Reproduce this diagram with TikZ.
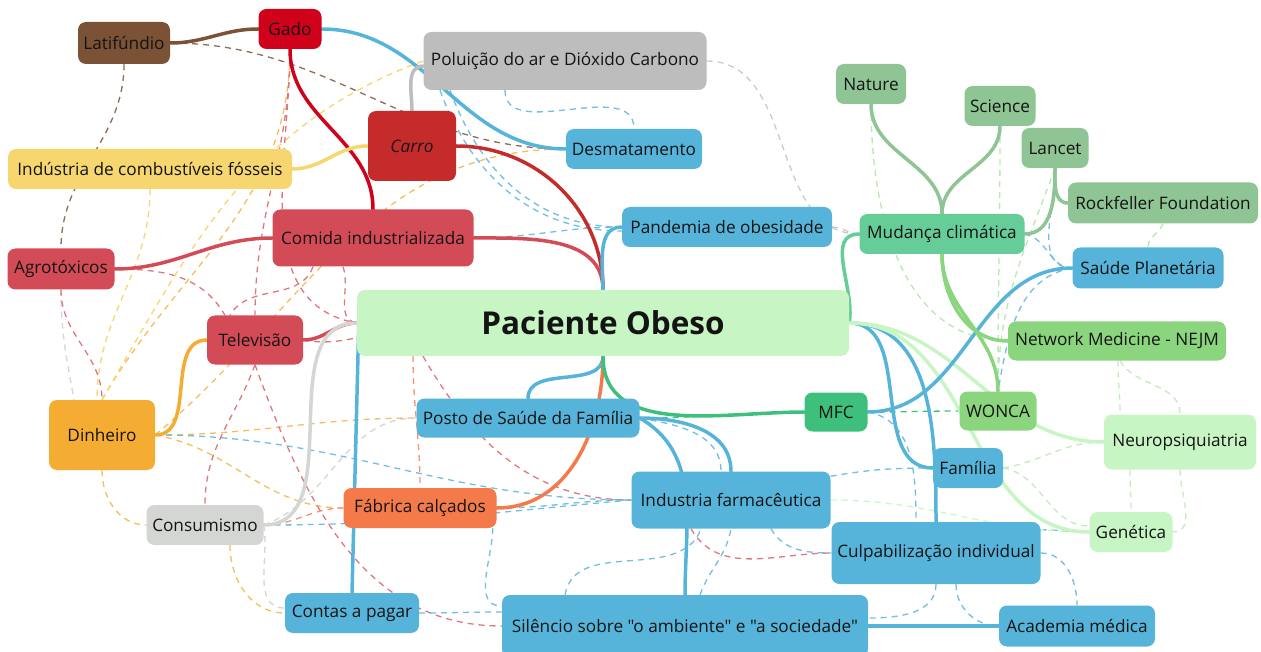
\documentclass[tikz,border=0pt]{standalone}
\usepackage{fontspec}
\setmainfont{Open Sans}[Ligatures=TeXOff]
\usepackage{xcolor}
\usepackage{tikz}
\usetikzlibrary{backgrounds}
\usetikzlibrary{positioning}

\definecolor{cbrown}{HTML}{7B5236}
\definecolor{cgado}{HTML}{D0021B}
\definecolor{cgray}{HTML}{BDBDBD}
\definecolor{ccarro}{HTML}{C62B2B}
\definecolor{cblue}{HTML}{56B4DA}
\definecolor{cyellow}{HTML}{F5D66F}
\definecolor{cred}{HTML}{D34B56}
\definecolor{cpale}{HTML}{C8F5C4}
\definecolor{corange}{HTML}{F5AC33}
\definecolor{cmfc}{HTML}{3EC07C}
\definecolor{cwonca}{HTML}{8AD57D}
\definecolor{cmuted}{HTML}{8FC594}
\definecolor{cmud}{HTML}{66CD98}
\definecolor{clgray}{HTML}{D4D6D3}
\definecolor{cfab}{HTML}{F47A4A}

\begin{document}
\begin{tikzpicture}[x=1pt,y=1pt]
  \tikzstyle{box}=[rounded corners=8pt, inner sep=0pt, text=black!92, font=\fontsize{17.2}{20}\selectfont]
  \tikzstyle{tie}=[line width=3.5pt, line cap=round]
  \tikzstyle{link}=[line width=1.3pt, dash pattern=on 6pt off 5pt]
  \useasboundingbox (0,0) rectangle (1261,-652);

  % left side
  \node[box, fill=cbrown, minimum width=92pt, minimum height=42pt] (lati) at (124,-43) {Latifúndio};
  \node[box, fill=cgado, minimum width=63pt, minimum height=40pt] (gado) at (290,-29) {Gado};
  \node[box, fill=cgray, minimum width=283pt, minimum height=58pt] (polu) at (565,-61) {Poluição do ar e Dióxido Carbono};
  \node[box, fill=ccarro, minimum width=88pt, minimum height=70pt] (carro) at (412,-146) {\itshape Carro};
  \node[box, fill=cblue, minimum width=136pt, minimum height=40pt] (desm) at (634,-149) {Desmatamento};
  \node[box, fill=cyellow, minimum width=284pt, minimum height=40pt] (comb) at (150,-169) {Indústria de combustíveis fósseis};
  \node[box, fill=cred, minimum width=201pt, minimum height=57pt] (comi) at (373,-238) {Comida industrializada};
  \node[box, fill=cblue, minimum width=210pt, minimum height=40pt] (pand) at (727,-227) {Pandemia de obesidade};
  \node[box, fill=cred, minimum width=107pt, minimum height=41pt] (agro) at (61,-269) {Agrotóxicos};
  \node[box, fill=cpale, minimum width=492pt, minimum height=66pt, font=\bfseries\fontsize{31.5}{36}\selectfont] (paci) at (603,-323) {Paciente Obeso};
  \node[box, fill=cred, minimum width=96pt, minimum height=49pt] (tele) at (255,-340) {Televisão};
  \node[box, fill=corange, minimum width=106pt, minimum height=70pt] (dinh) at (102,-435) {Dinheiro};
  \node[box, fill=cblue, minimum width=223pt, minimum height=39pt] (post) at (528,-418) {Posto de Saúde da Família};
  \node[box, fill=clgray, minimum width=117pt, minimum height=40pt] (cons) at (205,-525) {Consumismo};
  \node[box, fill=cfab, minimum width=153pt, minimum height=40pt] (fabr) at (420,-508) {Fábrica calçados};
  \node[box, fill=cblue, minimum width=134pt, minimum height=40pt] (cont) at (352,-613) {Contas a pagar};
  \node[box, fill=cblue, minimum width=199pt, minimum height=57pt] (indu) at (731,-500) {Industria farmacêutica};
  \node[box, fill=cblue, minimum width=366pt, minimum height=62pt] (sile) at (685,-626) {Silêncio sobre "o ambiente" e "a sociedade"};

  % right side
  \node[box, fill=cmuted, minimum width=70pt, minimum height=40pt] (natu) at (871,-84) {Nature};
  \node[box, fill=cmuted, minimum width=71pt, minimum height=40pt] (scie) at (1000,-106) {Science};
  \node[box, fill=cmuted, minimum width=67pt, minimum height=40pt] (lanc) at (1055,-148) {Lancet};
  \node[box, fill=cmuted, minimum width=190pt, minimum height=41pt] (rock) at (1163,-203) {Rockfeller Foundation};
  \node[box, fill=cmud, minimum width=165pt, minimum height=40pt] (mudc) at (942,-234) {Mudança climática};
  \node[box, fill=cblue, minimum width=151pt, minimum height=41pt] (plan) at (1148,-268) {Saúde Planetária};
  \node[box, fill=cwonca, minimum width=218pt, minimum height=39pt] (netw) at (1117,-341) {Network Medicine - NEJM};
  \node[box, fill=cmfc, minimum width=63pt, minimum height=39pt] (mfc) at (836,-412) {MFC};
  \node[box, fill=cwonca, minimum width=77pt, minimum height=39pt] (wonc) at (998,-411) {WONCA};
  \node[box, fill=cpale, minimum width=152pt, minimum height=55pt] (neur) at (1180,-442) {Neuropsiquiatria};
  \node[box, fill=cblue, minimum width=70pt, minimum height=40pt] (fami) at (968,-468) {Família};
  \node[box, fill=cpale, minimum width=83pt, minimum height=40pt] (gene) at (1131,-532) {Genética};
  \node[box, fill=cblue, minimum width=209pt, minimum height=62pt] (culp) at (936,-553) {Culpabilização individual};
  \node[box, fill=cblue, minimum width=156pt, minimum height=41pt] (acad) at (1077,-626) {Academia médica};

  \begin{pgfonlayer}{background}
  % cross links
  \path[link]
    (lati.east) edge[cbrown!85, out=0, in=180] (desm.west)
    (lati.south) edge[cbrown!85, out=270, in=90] (agro.north)
    (agro.south) edge[clgray, out=270, in=100] ([xshift=-28pt]dinh.north)
    (agro.south) edge[cred!75, out=270, in=90] (dinh.north)
    (comb.south) edge[cyellow, out=270, in=90] ([xshift=-5pt]dinh.north)
    (agro.east) edge[cred!75, out=0, in=120] ([xshift=-30pt]tele.north)
    (dinh.north) edge[corange!80, out=60, in=270] (gado.south)
    (dinh.north) edge[cyellow, out=60, in=200] (polu.west)
    (dinh.east) edge[corange!80, out=40, in=180] (desm.west)
    (dinh.east) edge[corange!80, out=0, in=180] (post.west)
    (dinh.east) edge[corange!80, out=-10, in=180] (fabr.west)
    (dinh.east) edge[cblue!85, out=0, in=180] (indu.west)
    (dinh.south) edge[corange!80, out=270, in=180] (cons.west)
    ([xshift=25pt]cons.south) edge[corange!80, out=270, in=180] (cont.west)
    (cons.east) edge[clgray, out=280, in=180] ([yshift=5pt]cont.west)
    (cons.east) edge[cfab!80, out=0, in=180] (fabr.west)
    (cons.east) edge[cblue!85, out=0, in=185] (indu.west)
    (cons.east) edge[clgray, out=20, in=180] (post.west)
    (tele.south) edge[cred!75, out=250, in=90] (cons.north)
    (tele.south) edge[cred!75, out=290, in=180] (sile.west)
    (tele.east) edge[cred!75, out=-10, in=190] ([yshift=-15pt]paci.west)
    (gado.south) edge[cred!75, out=270, in=170] (paci.west)
    (gado.south) edge[cred!75, out=270, in=90] (tele.north)
    ([xshift=-60pt]comi.south) edge[cred!75, out=250, in=60] ([xshift=-25pt]tele.north)
    ([xshift=-30pt]comi.south) edge[cred!75, out=290, in=170] (paci.west)
    ([xshift=-180pt]paci.south) edge[cred!75, out=300, in=180] (indu.west)
    ([xshift=-190pt]paci.south) edge[cfab!80, out=270, in=90] (fabr.north)
    (fabr.east) edge[cblue!85, out=0, in=180] (indu.west)
    ([xshift=-4pt]fabr.south east) edge[cblue!85, out=270, in=180] ([yshift=20pt]sile.west)
    (cont.east) edge[cblue!85, out=0, in=180] ([yshift=14pt]sile.west)
    ([xshift=-120pt]sile.north) edge[cblue!85, out=80, in=250] ([xshift=-30pt]indu.south)
    ([xshift=15pt]sile.north) edge[cblue!85, out=70, in=260] (indu.south)
    ([xshift=-40pt]indu.south) edge[cred!75, out=300, in=180] (culp.west)
    ([xshift=40pt]indu.south) edge[cblue!85, out=300, in=180] (culp.west)
    (culp.south) edge[cblue!85, out=270, in=0] ([yshift=8pt]sile.east)
    ([xshift=20pt]culp.south) edge[cblue!85, out=270, in=180] (acad.west)
    (culp.east) edge[cblue!85, out=0, in=90] (acad.north)
    ([yshift=-8pt]culp.north east) edge[cblue!85, out=0, in=180] (gene.west)
    ([yshift=-5pt]indu.north east) edge[cblue!85, out=10, in=180] (fami.west)
    (indu.east) edge[cpale!80!green!60!white, out=0, in=180] (gene.west)
    (mfc.east) edge[cblue!85, out=-10, in=90] ([xshift=-20pt]culp.north)
    (post.east) edge[cmfc, out=0, in=180] (mfc.west)
    (post.east) edge[cblue!85, out=-10, in=90] ([xshift=-10pt]indu.north)
    (mfc.east) edge[cmfc, out=0, in=180] (wonc.west)
    (fami.east) edge[cwonca!50, out=10, in=180] (neur.west)
    (fami.east) edge[cwonca!50, out=-10, in=180] ([yshift=6pt]gene.west)
    ([xshift=1pt]netw.south) edge[cwonca!50, out=270, in=90] ([xshift=-60pt]neur.north)
    ([xshift=3pt]netw.south) edge[cwonca!50, out=300, in=90] (neur.north)
    ([xshift=-50pt]neur.south) edge[cwonca!50, out=270, in=90] (gene.north)
    (neur.south) edge[cwonca!50, out=270, in=0] (gene.east)
    (rock.south) edge[cwonca!60, out=250, in=90] (plan.north)
    (natu.south) edge[cwonca!60, out=270, in=180] (netw.west)
    (scie.south) edge[cwonca!60, out=270, in=90] (wonc.north)
    (lanc.south) edge[cwonca!60, out=250, in=90] (wonc.north)
    (lanc.south) edge[cblue!85, out=270, in=180] (plan.west)
    (mudc.east) edge[cblue!85, out=-10, in=180] (plan.west)
    (plan.west) edge[cblue!85, out=190, in=80] (wonc.north)
    (polu.east) edge[cgray!80, out=0, in=180] (mudc.west)
    (pand.east) edge[cgray!80, out=0, in=180] (mudc.west)
    ([xshift=-60pt]polu.south) edge[cblue!85, out=270, in=90] (desm.north)
    ([xshift=-115pt]polu.south) edge[cblue!85, out=290, in=180] (pand.west)
    ([xshift=-125pt]polu.south) edge[cblue!85, out=290, in=180] ([yshift=-4pt]pand.west)
    (comi.east) edge[cblue!85, out=0, in=180] (pand.west);

  % tree branches
  \path[tie]
    (lati.east) edge[cbrown, out=0, in=180] (gado.west)
    (gado.east) edge[cblue, out=0, in=180] (desm.west)
    (carro.north) edge[cgray, out=90, in=180] ([yshift=-5pt]polu.west)
    (gado.south) edge[cgado, out=270, in=90] (comi.north)
    (comb.east) edge[cyellow, out=0, in=180] (carro.west)
    (carro.east) edge[ccarro, out=0, in=90] (paci.north)
    (agro.east) edge[cred, out=0, in=180] (comi.west)
    (comi.east) edge[cred, out=0, in=90] (paci.north)
    (pand.west) edge[cblue, out=180, in=90] (paci.north)
    (tele.east) edge[cred, out=0, in=180] (paci.west)
    (cons.east) edge[clgray, out=0, in=180] (paci.west)
    (cont.north) edge[cblue] ([xshift=2pt]paci.west)
    (dinh.east) edge[corange, out=0, in=180] (tele.west)
    (paci.south) edge[cblue, out=270, in=90] (post.north)
    (paci.south) edge[cfab, out=270, in=0] (fabr.east)
    (paci.south) edge[cmfc, out=270, in=180] (mfc.west)
    (paci.east) edge[cmud, out=80, in=180] (mudc.west)
    (paci.east) edge[cblue, out=0, in=180] (fami.west)
    (paci.east) edge[cblue, out=0, in=90] (culp.north)
    (paci.east) edge[cpale, out=0, in=180] (neur.west)
    (paci.east) edge[cpale, out=0, in=180] (gene.west)
    (mfc.east) edge[cblue, out=0, in=180] (plan.west)
    (mudc.north) edge[cmuted, out=90, in=270] (natu.south)
    (mudc.north) edge[cmuted, out=90, in=270] (scie.south)
    (mudc.east) edge[cmuted, out=0, in=270] (lanc.south)
    (lanc.south) edge[cmuted, out=270, in=180] (rock.west)
    (mudc.south) edge[cwonca, out=270, in=90] (wonc.north)
    (mudc.south) edge[cwonca, out=270, in=180] (netw.west)
    (post.east) edge[cblue, out=0, in=90] (indu.north)
    (post.east) edge[cblue, out=-30, in=90] (sile.north)
    (sile.east) edge[cblue, out=0, in=180] (acad.west);
  \end{pgfonlayer}
\end{tikzpicture}
\end{document}
